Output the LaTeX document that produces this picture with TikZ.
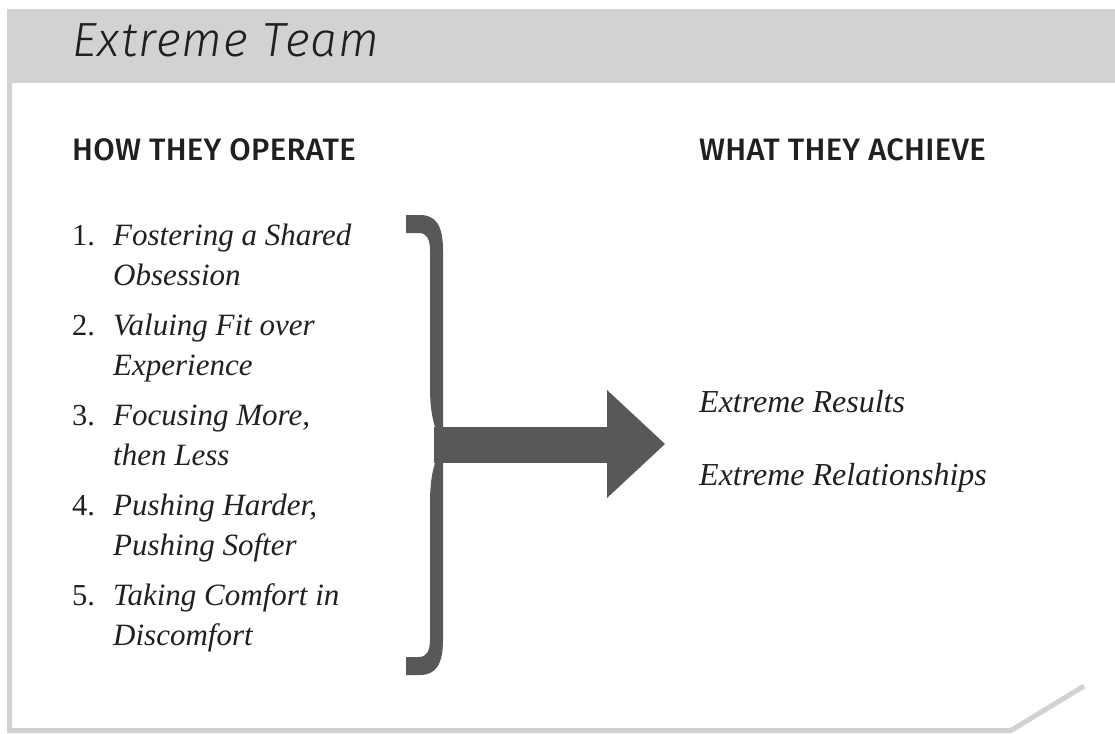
\documentclass[tikz,border=0pt]{standalone}
\usepackage{fontspec}
\setmainfont{Liberation Serif}
\newfontfamily\titlefont{Fira Sans Light Italic}[LetterSpace=2.5]
\newfontfamily\headfont{Fira Sans Medium}[LetterSpace=1]
\definecolor{bandgray}{HTML}{D1D2D4}
\definecolor{inkdark}{HTML}{231F20}
\definecolor{arrowgray}{HTML}{58585A}
\begin{document}
\begin{tikzpicture}[x=1pt,y=-1pt,
  title/.style={anchor=base west,inner sep=0pt,text=inkdark,font=\titlefont\fontsize{48}{52}\selectfont},
  heading/.style={anchor=base west,inner sep=0pt,text=inkdark,font=\headfont\fontsize{31}{35}\selectfont},
  itemnum/.style={anchor=base west,inner sep=0pt,text=inkdark,font=\fontsize{30.5}{40}\selectfont},
  itemtext/.style={anchor=base west,inner sep=0pt,text=inkdark,font=\itshape\fontsize{31}{40}\selectfont},
  result/.style={anchor=base west,inner sep=0pt,text=inkdark,font=\itshape\fontsize{32}{40}\selectfont},
  frameline/.style={draw=bandgray,line width=5pt}]
\useasboundingbox (0,0) rectangle (1115,733);

% header band and frame
\fill[bandgray] (7,9) rectangle (1115,83);
\draw[frameline] (9.5,83) -- (9.5,730.5) -- (1011,730.5) -- (1084,686);

\node[title] (title) at (72,57) {Extreme Team};

% column headings
\node[heading] (howhead) at (72,160) {HOW THEY OPERATE};
\node[heading] (whathead) at (699,160) {WHAT THEY ACHIEVE};

% numbered list
\node[itemnum] (n1) at (72,245) {1.};
\node[itemtext] (i1a) at (113,245) {Fostering a Shared};
\node[itemtext] (i1b) at (113,285) {Obsession};
\node[itemnum] (n2) at (72,335) {2.};
\node[itemtext] (i2a) at (113,335) {Valuing Fit over};
\node[itemtext] (i2b) at (113,375) {Experience};
\node[itemnum] (n3) at (72,425) {3.};
\node[itemtext] (i3a) at (113,425) {Focusing More,};
\node[itemtext] (i3b) at (113,465) {then Less};
\node[itemnum] (n4) at (72,515) {4.};
\node[itemtext] (i4a) at (113,515) {Pushing Harder,};
\node[itemtext] (i4b) at (113,555) {Pushing Softer};
\node[itemnum] (n5) at (72,605) {5.};
\node[itemtext] (i5a) at (113,605) {Taking Comfort in};
\node[itemtext] (i5b) at (113,645) {Discomfort};

% outcomes
\node[result] (r1) at (699,412) {Extreme Results};
\node[result] (r2) at (699,485) {Extreme Relationships};

% brace with arrow
\fill[arrowgray] (406,215) -- (420,215) .. controls (436,215) and (443,226) .. (443,250)
  -- (443,427) -- (435,427) .. controls (431,414) and (430,402) .. (430,385)
  -- (430,250) .. controls (430,240) and (427,233) .. (419,233) -- (406,233) -- cycle;
\fill[arrowgray] (406,675) -- (420,675) .. controls (436,675) and (443,664) .. (443,640)
  -- (443,463) -- (435,463) .. controls (431,476) and (430,488) .. (430,505)
  -- (430,640) .. controls (430,650) and (427,657) .. (419,657) -- (406,657) -- cycle;
\fill[arrowgray] (434,427) rectangle (608,463);
\fill[arrowgray] (607,390) -- (665,444) -- (607,498) -- cycle;
\end{tikzpicture}
\end{document}
